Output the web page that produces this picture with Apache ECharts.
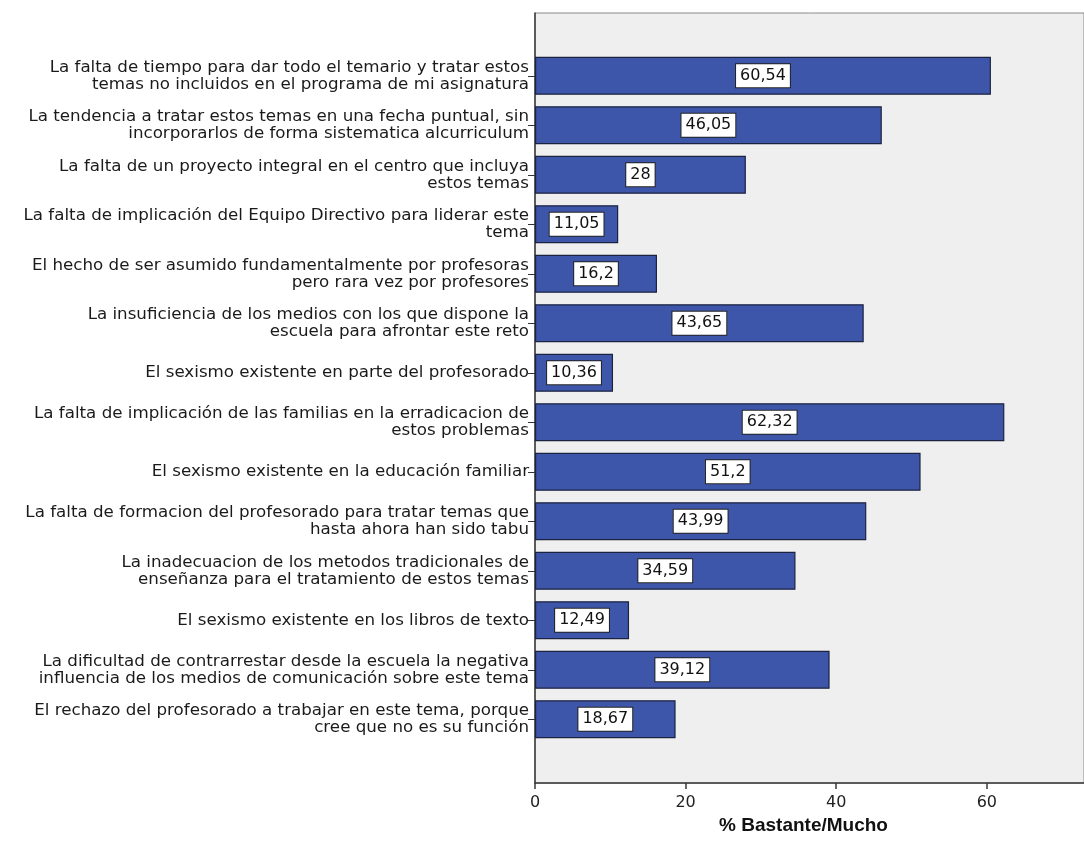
<!DOCTYPE html>
<html>
<head>
<meta charset="utf-8">
<script src="https://cdn.jsdelivr.net/npm/echarts@6/dist/echarts.min.js"></script>
<style>
html,body{margin:0;padding:0;background:#fff;}
#main{width:1084px;height:860px;}
</style>
</head>
<body>
<div id="main"></div>
<script>
var categories = [
    'La falta de tiempo para dar todo el temario y tratar estos\ntemas no incluidos en el programa de mi asignatura',
    'La tendencia a tratar estos temas en una fecha puntual, sin\nincorporarlos de forma sistematica alcurriculum',
    'La falta de un proyecto integral en el centro que incluya\nestos temas',
    'La falta de implicación del Equipo Directivo para liderar este\ntema',
    'El hecho de ser asumido fundamentalmente por profesoras\npero rara vez por profesores',
    'La insuficiencia de los medios con los que dispone la\nescuela para afrontar este reto',
    'El sexismo existente en parte del profesorado',
    'La falta de implicación de las familias en la erradicacion de\nestos problemas',
    'El sexismo existente en la educación familiar',
    'La falta de formacion del profesorado para tratar temas que\nhasta ahora han sido tabu',
    'La inadecuacion de los metodos tradicionales de\nenseñanza para el tratamiento de estos temas',
    'El sexismo existente en los libros de texto',
    'La dificultad de contrarrestar desde la escuela la negativa\ninfluencia de los medios de comunicación sobre este tema',
    'El rechazo del profesorado a trabajar en este tema, porque\ncree que no es su función'
];
var values = [60.54, 46.05, 28, 11.05, 16.2, 43.65, 10.36, 62.32, 51.2, 43.99, 34.59, 12.49, 39.12, 18.67];
var xTicks = [0, 20, 40, 60];

var chart = echarts.init(document.getElementById('main'));
var font = '"DejaVu Sans", Verdana, sans-serif';
var titleFont = '"Liberation Sans", Arial, sans-serif';
var xMax = 72.9;

var option = {
    animation: false,
    grid: [
        { // plot background
            left: 535, right: -1, top: 13, bottom: 77,
            show: true, backgroundColor: '#efefef',
            borderColor: '#8a8a8a', borderWidth: 1
        },
        { // bars area
            left: 535, right: -1, top: 51, bottom: 116
        }
    ],
    xAxis: [
        {
            gridIndex: 0, type: 'value', min: 0, max: xMax, interval: 20,
            axisLine: { show: true, lineStyle: { color: '#3a3a3a', width: 1.5 } },
            axisTick: { show: true, length: 6, lineStyle: { color: '#3a3a3a', width: 1.5 } },
            axisLabel: {
                color: '#222', fontSize: 16, fontFamily: font, margin: 12,
                showMaxLabel: false,
                formatter: function (v) { return xTicks.indexOf(v) >= 0 ? String(v) : ''; }
            },
            splitLine: { show: false },
            name: '% Bastante/Mucho',
            nameLocation: 'middle',
            nameGap: 31,
            nameTextStyle: { fontSize: 19, fontWeight: 'bold', color: '#111', fontFamily: titleFont, padding: [0, 12, 0, 0] }
        },
        {
            gridIndex: 1, type: 'value', min: 0, max: xMax, show: false
        }
    ],
    yAxis: [
        {
            gridIndex: 0, type: 'value', min: 0, max: 1,
            axisLine: { show: true, lineStyle: { color: '#3a3a3a', width: 1.5 } },
            axisTick: { show: false },
            axisLabel: { show: false },
            splitLine: { show: false }
        },
        {
            gridIndex: 1, type: 'category', inverse: true,
            data: categories,
            axisLine: { show: false },
            axisTick: { show: true, alignWithLabel: true, length: 7, lineStyle: { color: '#333', width: 1 } },
            axisLabel: {
                color: '#1a1a1a', fontSize: 16.7, lineHeight: 17,
                fontFamily: font, margin: 6, align: 'right'
            }
        }
    ],
    series: [
        {
            type: 'bar',
            xAxisIndex: 1, yAxisIndex: 1,
            data: values,
            barWidth: 38,
            itemStyle: { color: '#3e56aa', borderColor: '#1c2340', borderWidth: 1.2 },
            label: {
                show: true, position: 'inside',
                color: '#111', fontSize: 16, fontFamily: font,
                backgroundColor: '#fff', borderColor: '#222', borderWidth: 1,
                padding: [4, 4, 3, 4],
                formatter: function (p) { return String(p.value).replace('.', ','); }
            }
        }
    ]
};
chart.setOption(option);
</script>
</body>
</html>
